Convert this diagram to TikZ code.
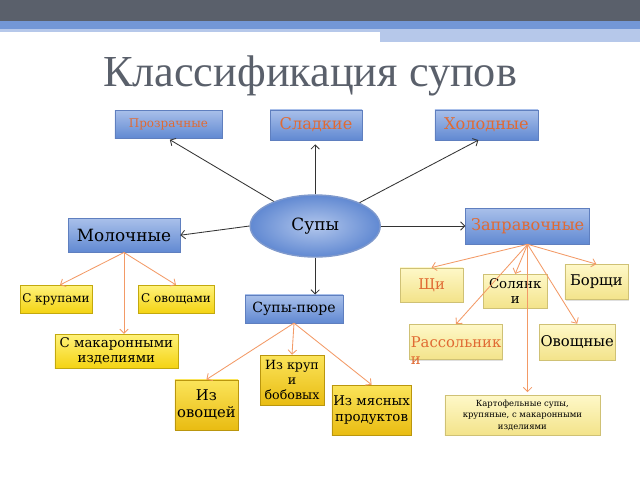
\documentclass[tikz,border=0pt]{standalone}
\usepackage{fontspec}
\setmainfont{DejaVu Serif}
\newfontfamily\titlefont{Liberation Serif}
\usetikzlibrary{shapes.geometric,shadows,arrows.meta}

\definecolor{bargray}{HTML}{5A606B}
\definecolor{barblue}{HTML}{7397D6}
\definecolor{barlight}{HTML}{B6C8EA}
\definecolor{bluetop}{HTML}{A9C0EA}
\definecolor{bluebot}{HTML}{6189D2}
\definecolor{blueedge}{HTML}{5F7FBF}
\definecolor{textorange}{HTML}{E06A33}
\definecolor{arroworange}{HTML}{F39A66}
\definecolor{yeltop}{HTML}{FFF27A}
\definecolor{yelbot}{HTML}{F4D312}
\definecolor{goldtop}{HTML}{FBE45A}
\definecolor{goldbot}{HTML}{E9BC12}
\definecolor{paletop}{HTML}{FEF8C8}
\definecolor{palebot}{HTML}{F3E38A}

\begin{document}
\begin{tikzpicture}[
  >={Straight Barb[length=3pt,width=6pt]},
  boxbase/.style={rectangle, text centered, inner sep=1pt, align=center,
    drop shadow={opacity=.25, shadow xshift=.6pt, shadow yshift=-.8pt}},
  bluebox/.style={boxbase, draw=blueedge, top color=bluetop, bottom color=bluebot},
  yellowbox/.style={boxbase, draw=yelbot!80!black, top color=yeltop, bottom color=yelbot},
  goldbox/.style={boxbase, draw=goldbot!80!black, top color=goldtop, bottom color=goldbot},
  palebox/.style={boxbase, draw=palebot!85!black, top color=paletop, bottom color=palebot},
  blackarrow/.style={->, draw=black!80, line width=.6pt},
  orangearrow/.style={->, draw=arroworange, line width=.6pt}
]

% Canvas and top bar
\fill[white] (0, 0) rectangle (16, -12);
\useasboundingbox (0, 0) rectangle (16, -12);
\fill[bargray] (0, 0) rectangle (16, -0.52);
\fill[barblue] (0, -0.52) rectangle (16, -0.72);
\fill[barlight] (0, -0.72) rectangle (9.5, -0.79);
\fill[barlight] (9.5, -0.72) rectangle (16, -1.06);

% Title
\node[text=bargray, font=\titlefont\fontsize{31.5}{34}\selectfont] (title) at (7.75, -1.9) {Классификация супов};

% Main node
\node[ellipse, draw=blueedge!80, line width=1pt, inner color=bluetop!90, outer color=bluebot,
  minimum width=3.25cm, minimum height=1.55cm, font=\fontsize{12}{14}\selectfont] (supy) at (7.88, -5.65) {Супы};

% First level nodes
\node[bluebox, minimum width=2.68cm, minimum height=0.7cm, text=textorange, font=\fontsize{8.5}{10}\selectfont] (prozr) at (4.21, -3.1) {Прозрачные};
\node[bluebox, minimum width=2.3cm, minimum height=0.75cm, text=textorange, font=\fontsize{11.5}{13}\selectfont] (sladk) at (7.9, -3.12) {Сладкие};
\node[bluebox, minimum width=2.58cm, minimum height=0.75cm, text=textorange, font=\fontsize{11.5}{13}\selectfont] (holod) at (12.16, -3.12) {Холодные};
\node[bluebox, minimum width=3.1cm, minimum height=0.9cm, text=textorange, font=\fontsize{11.5}{13}\selectfont] (zaprav) at (13.19, -5.65) {Заправочные};
\node[bluebox, minimum width=2.8cm, minimum height=0.85cm, font=\fontsize{12}{14}\selectfont] (moloch) at (3.1, -5.88) {Молочные};
\node[bluebox, minimum width=2.45cm, minimum height=0.7cm, font=\fontsize{10}{12}\selectfont] (pure) at (7.35, -7.72) {Супы-пюре};

% Milk soups
\node[yellowbox, minimum width=1.8cm, minimum height=0.7cm, font=\fontsize{8.5}{10}\selectfont] (krupy) at (1.4, -7.48) {С крупами};
\node[yellowbox, minimum width=1.9cm, minimum height=0.7cm, font=\fontsize{8.5}{10}\selectfont] (ovosch) at (4.4, -7.48) {С овощами};
\node[yellowbox, minimum width=3.08cm, minimum height=0.85cm, font=\fontsize{9.5}{11}\selectfont] (makar) at (2.91, -8.78) {С макаронными\\изделиями};

% Dressing soups
\node[palebox, minimum width=1.58cm, minimum height=0.85cm, text=textorange, font=\fontsize{10.5}{12}\selectfont] (schi) at (10.79, -7.12) {Щи};
\node[palebox, minimum width=1.6cm, minimum height=0.85cm, font=\fontsize{9.5}{11}\selectfont] (solyan) at (12.88, -7.28) {Солянк\\и};
\node[palebox, minimum width=1.58cm, minimum height=0.88cm, font=\fontsize{10.5}{12}\selectfont] (borsch) at (14.91, -7.05) {Борщи};
\node[palebox, minimum width=2.3cm, minimum height=0.88cm, text=textorange, font=\fontsize{10.5}{12}\selectfont] (rassol) at (11.4, -8.55)
  {\raisebox{0pt}[\height][0pt]{\begin{tabular}[t]{@{}l@{}}Рассольник\\и\end{tabular}}};
\node[palebox, minimum width=1.85cm, minimum height=0.9cm, font=\fontsize{10.5}{12}\selectfont] (ovoschn) at (14.43, -8.55) {Овощные};
\node[palebox, minimum width=3.88cm, minimum height=1cm, font=\fontsize{6}{8}\selectfont] (kartof) at (13.06, -10.38) {Картофельные супы,\\крупяные, с макаронными\\изделиями};

% Puree soups
\node[goldbox, minimum width=1.6cm, minimum height=1.25cm, font=\fontsize{9}{10.5}\selectfont] (izkrup) at (7.3, -9.5) {Из круп\\и\\бобовых};
\node[goldbox, minimum width=1.58cm, minimum height=1.25cm, font=\fontsize{10.5}{12}\selectfont] (izovosch) at (5.16, -10.12) {Из\\овощей};
\node[goldbox, minimum width=1.83cm, minimum height=1.25cm, font=\fontsize{9.5}{11.5}\selectfont] (izmyas) at (9.29, -10.25) {Из мясных\\продуктов};

% Arrows from the main node
\draw[blackarrow] (supy) -- ([xshift=1pt,yshift=-1pt]prozr.south);
\draw[blackarrow, shorten >=3pt] (supy.north) -- (supy.north |- sladk.south);
\draw[blackarrow] (supy) -- ([xshift=-0.2cm]holod.south);
\draw[blackarrow] (supy.east) -- (supy.east -| zaprav.west);
\draw[blackarrow] (supy.west) -- (moloch.east);
\draw[blackarrow] (supy.south) -- (supy.south |- pure.north);

% Milk soup arrows
\draw[orangearrow] (moloch.south) -- ([xshift=0.1cm]krupy.north);
\draw[orangearrow] (moloch.south) -- (ovosch.north);
\draw[orangearrow] (moloch.south) -- (moloch.south |- makar.north);

% Dressing soup arrows
\draw[orangearrow] (zaprav.south) -- (schi.north);
\draw[orangearrow] (zaprav.south) -- (solyan.north);
\draw[orangearrow] (zaprav.south) -- (borsch.north);
\draw[orangearrow] (zaprav.south) -- (rassol.north);
\draw[orangearrow] (zaprav.south) -- (ovoschn.north);
\draw[orangearrow, shorten >=2pt] (zaprav.south) -- (zaprav.south |- kartof.north);

% Puree soup arrows
\draw[orangearrow] (pure.south) -- (izovosch.north);
\draw[orangearrow] (pure.south) -- (izkrup.north);
\draw[orangearrow] (pure.south) -- (izmyas.north);

\end{tikzpicture}
\end{document}
